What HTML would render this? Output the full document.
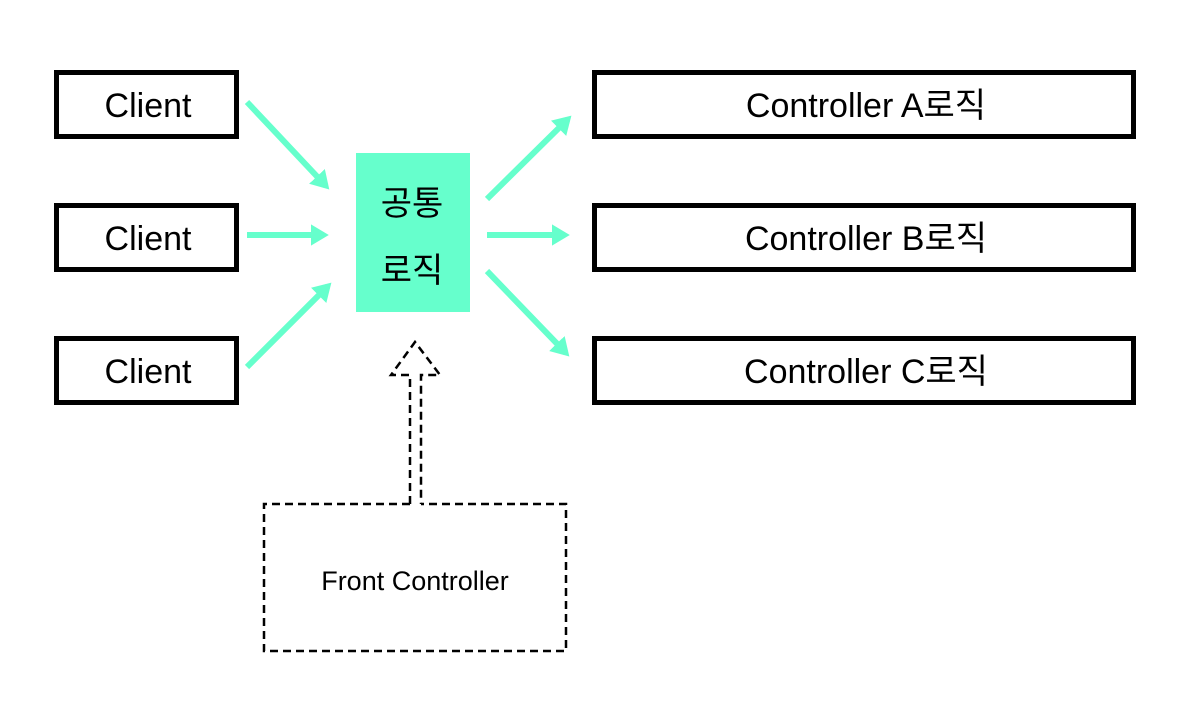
<!DOCTYPE html>
<html><head><meta charset="utf-8"><style>
html,body{margin:0;padding:0;background:#fff;width:1193px;height:715px;overflow:hidden}
svg{display:block}
text{font-family:"Liberation Sans","Noto Sans CJK KR",sans-serif;fill:#000}
</style></head><body>
<svg width="1193" height="715" viewBox="0 0 1193 715" xmlns="http://www.w3.org/2000/svg">
<defs>
<marker id="ah" markerWidth="4" markerHeight="4" refX="2.2" refY="2" orient="auto" markerUnits="strokeWidth">
<path d="M0,0.2 L3,2 L0,3.8 z" fill="#66FFCC"/>
</marker>
</defs>
<g fill="#fff" stroke="#000" stroke-width="5">
<rect x="56.5" y="72.5" width="180" height="64"/>
<rect x="56.5" y="205.5" width="180" height="64"/>
<rect x="56.5" y="338.5" width="180" height="64"/>
<rect x="594.5" y="72.5" width="539" height="64"/>
<rect x="594.5" y="205.5" width="539" height="64"/>
<rect x="594.5" y="338.5" width="539" height="64"/>
</g>
<g font-size="34" text-anchor="middle">
<text x="148" y="117">Client</text>
<text x="148" y="250">Client</text>
<text x="148" y="383">Client</text>
<text x="866" y="117">Controller A로직</text>
<text x="866" y="250">Controller B로직</text>
<text x="866" y="383">Controller C로직</text>
</g>
<rect x="356" y="153" width="114" height="159" fill="#66FFCC"/>
<g font-size="34" text-anchor="middle">
<text x="412" y="215">공통</text>
<text x="412" y="282">로직</text>
</g>
<g stroke="#66FFCC" stroke-width="6" fill="none" marker-end="url(#ah)">
<line x1="247" y1="102" x2="326" y2="186"/>
<line x1="247" y1="235" x2="324" y2="235"/>
<line x1="247" y1="367" x2="328" y2="286"/>
<line x1="487" y1="199" x2="568" y2="119"/>
<line x1="487" y1="235" x2="565" y2="235"/>
<line x1="487" y1="271" x2="566" y2="353"/>
</g>
<g stroke="#000" stroke-width="2.5" fill="none" stroke-dasharray="8,5">
<path d="M410,504 L410,375 L391,375 L415,342 L440,375 L421,375 L421,504"/>
<path d="M410,504 L264,504 L264,651 L566,651 L566,504 L421,504"/>
</g>
<text x="415" y="590" font-size="27" text-anchor="middle">Front Controller</text>
</svg>
</body></html>
